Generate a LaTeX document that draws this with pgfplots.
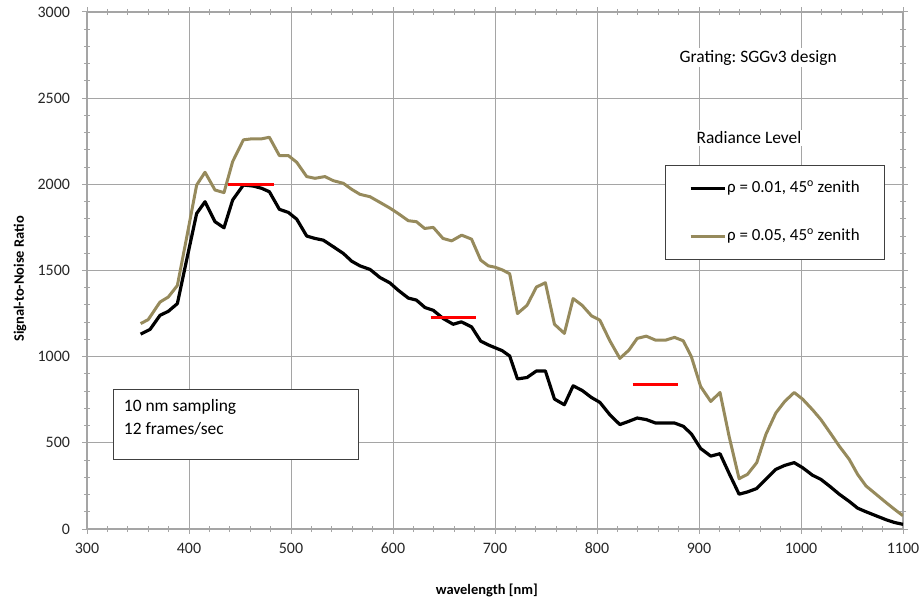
\documentclass[border=0pt]{standalone}
\usepackage{fontspec}
\setmainfont{Carlito}
\usepackage{pgfplots}
\pgfplotsset{compat=1.18}
\frenchspacing

\definecolor{snrgold}{RGB}{150,138,92}
\definecolor{gridgray}{RGB}{165,165,165}
\definecolor{boxgray}{RGB}{64,64,64}

\begin{document}
\begin{tikzpicture}
\useasboundingbox (0,0) rectangle (924bp,600bp);
\begin{axis}[
  at={(87bp,71bp)}, anchor=south west,
  width=816bp, height=517bp, scale only axis,
  xmin=300, xmax=1100, ymin=0, ymax=3000,
  xtick={300,400,...,1100}, ytick={0,500,...,3000},
  minor x tick num=4, minor y tick num=4,
  tick align=center, major tick length=9bp, minor tick length=6bp,
  grid=major, major grid style={gridgray, line width=1bp},
  axis line style={gridgray, line width=1.1bp},
  tick style={gridgray, line width=1bp},
  ticklabel style={font=\fontsize{16}{19}\selectfont, text=black!85},
  /pgf/number format/assume math mode=true,
  /pgf/number format/1000 sep={},
  yticklabel style={xshift=-9bp},
  xticklabel style={yshift=-6bp},
  xlabel={wavelength [nm]}, ylabel={Signal-to-Noise Ratio},
  label style={font=\bfseries\fontsize{14.5}{17}\selectfont},
  xlabel style={at={(axis description cs:0.49,-0.118)}, anchor=center},
  ylabel style={at={(axis description cs:-0.0821,0.4836)}, anchor=center},
  legend style={at={(axis description cs:0.708,0.704)}, anchor=north west,
    draw=boxgray, line width=0.9bp, fill=white, inner xsep=24bp, inner ysep=14bp,
    row sep=30bp, font=\fontsize{17}{20}\selectfont,
    nodes={inner sep=1bp, text height=12bp, text depth=4bp}, cells={anchor=west}},
  legend image code/.code={\draw[#1, line width=3bp] (0bp,0bp) -- (34bp,0bp);},
]

% rho = 0.01, 45 deg zenith
\addplot[black, line width=3.2bp, line join=round] coordinates {
(352.6,1131) (361.8,1158) (371.6,1240) (379.7,1263) (388.6,1308) (398,1570)
(407.5,1831) (415.7,1899) (425.5,1783) (434.3,1748) (442.8,1909) (453.3,1996)
(463,1990) (471.2,1977) (478.8,1957) (488.6,1855) (497.4,1837) (505.6,1798)
(515.4,1700) (523.5,1686) (531.7,1676) (541.5,1638) (551.3,1599) (559.5,1554)
(567.6,1527) (577.5,1506) (587.3,1459) (597,1428) (605,1386) (615,1340)
(623,1328) (631.4,1285) (639.5,1269) (649.3,1221) (659,1188) (667,1202)
(677,1173) (686,1090) (693.5,1068) (700,1052) (707,1035) (714.4,1004)
(722,871) (731.4,879) (740.6,917) (749.4,917) (758.3,754) (768,721)
(776.6,831) (785.4,804) (794.6,763) (802.8,735) (812.6,663) (822.4,606)
(831.3,625) (839.4,644) (848.3,635) (857.4,615) (867.3,615) (876,615)
(884.6,596) (892.5,552) (901.6,467) (911.5,423) (920.6,437) (929.5,323)
(939.3,202) (947.5,215) (956.6,235) (965.5,288) (975.3,346) (984,369)
(993.3,385) (1001.5,356) (1011.3,312) (1019.5,288) (1028.6,246) (1037.5,202)
(1047.3,160) (1055.5,121) (1063.7,100) (1073.5,77) (1083.3,54) (1091.5,38)
(1100,27)};
\addlegendentry{ρ = 0.01, 45\textsuperscript{o} zenith}

% rho = 0.05, 45 deg zenith
\addplot[snrgold, line width=3bp, line join=round] coordinates {
(352.6,1192) (360,1215) (371.6,1317) (379.7,1346) (388.6,1413) (398,1700)
(407.5,1996) (415.7,2070) (425.5,1967) (434.3,1952) (442.8,2132) (453.3,2258)
(461.4,2264) (471.2,2264) (478.8,2273) (488.6,2167) (497.4,2167) (505.6,2128)
(515.4,2045) (523.5,2035) (533.3,2045) (541.5,2021) (551.3,2006) (559.5,1971)
(567.6,1942) (577.5,1928) (587.3,1895) (597,1862) (605,1831) (615,1789)
(623,1783) (631,1744) (639.5,1750) (649,1686) (657.5,1672) (667.3,1705)
(677,1682) (686,1560) (693.5,1527) (700,1519) (707,1504) (714.4,1481)
(722,1250) (731.4,1298) (740.6,1404) (749.4,1429) (758.3,1188) (768,1135)
(776.6,1337) (785.4,1298) (794.6,1237) (802.8,1212) (812.6,1092) (822.4,990)
(831.3,1038) (839.4,1106) (848.3,1119) (857.4,1096) (867.3,1096) (876,1112)
(884.6,1092) (892.5,1000) (901.6,827) (911.5,740) (920.6,792) (929.5,538)
(939.3,292) (947.5,317) (956.6,385) (965.5,548) (975.3,673) (984,740)
(993.3,792) (1001.5,754) (1011.3,692) (1019.5,635) (1028.6,558) (1037.5,481)
(1047.3,404) (1055.5,317) (1063.7,250) (1073.5,202) (1083.3,154) (1091.5,115)
(1100,77)};
\addlegendentry{ρ = 0.05, 45\textsuperscript{o} zenith}

% requirement levels
\addplot[red, line width=3bp, forget plot] coordinates {(438,2000) (483,2000)};
\addplot[red, line width=3bp, forget plot] coordinates {(637,1228) (681,1228)};
\addplot[red, line width=3bp, forget plot] coordinates {(835,840) (879,840)};

% annotations
\node[fill=white, inner sep=2bp, font=\fontsize{17.5}{20}\selectfont]
  at (axis cs:958,2734) {Grating: SGGv3 design};
\node[fill=white, inner sep=2bp, font=\fontsize{17.5}{20}\selectfont]
  at (axis cs:949,2269) {Radiance Level};
\draw[boxgray, line width=0.9bp, fill=white]
  (axis cs:325.5,812.5) rectangle (axis cs:565.7,406);
\node[anchor=west, inner sep=0pt, font=\fontsize{17.5}{20}\selectfont]
  at (axis cs:336,708) {10 nm sampling};
\node[anchor=west, inner sep=0pt, font=\fontsize{17.5}{20}\selectfont]
  at (axis cs:336,580) {12 frames/sec};
\end{axis}
\end{tikzpicture}
\end{document}
